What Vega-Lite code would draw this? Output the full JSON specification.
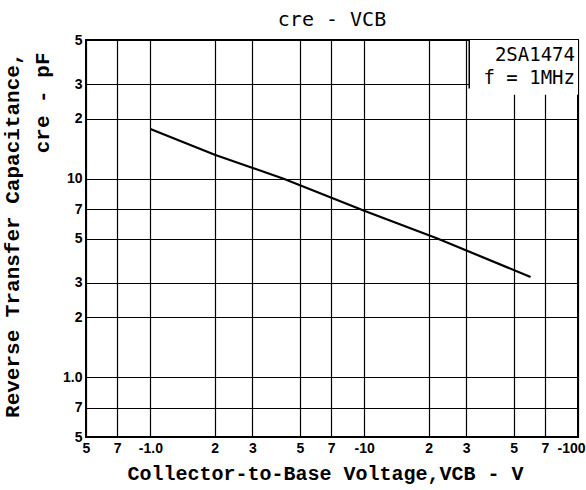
{
  "$schema": "https://vega.github.io/schema/vega-lite/v6.json",
  "autosize": "none",
  "width": 492,
  "height": 397,
  "padding": {"left": 86, "top": 40, "right": 8, "bottom": 53},
  "background": "white",
  "title": {"text": "cre - VCB", "font": "DejaVu Sans Mono", "fontSize": 20, "fontWeight": "normal", "color": "black", "offset": 3, "anchor": "middle"},
  "config": {
    "view": {"stroke": "black", "strokeWidth": 2},
    "axis": {"grid": true, "gridColor": "black", "gridOpacity": 1, "gridWidth": 1.2, "ticks": false, "domain": false, "labelColor": "black", "titleColor": "black", "labelOverlap": false, "labelBound": false, "labelFlush": false}
  },
  "layer": [
    {
      "data": {"values": [
        {"vcb": 1.0, "cre": 17.8},
        {"vcb": 2.0, "cre": 13.2},
        {"vcb": 4.2, "cre": 10.0},
        {"vcb": 10.0, "cre": 6.9},
        {"vcb": 22.0, "cre": 5.0},
        {"vcb": 60.0, "cre": 3.2}
      ]},
      "mark": {"type": "line", "color": "black", "strokeWidth": 2.2},
      "encoding": {
        "x": {"field": "vcb", "type": "quantitative",
          "scale": {"type": "log", "domain": [0.5, 100], "nice": false},
          "axis": {"values": [0.5, 0.7, 1, 2, 3, 5, 7, 10, 20, 30, 50, 70, 100],
            "labelExpr": "datum.value == 1 ? '-1.0' : datum.value == 10 ? '-10' : datum.value == 100 ? '-100' : toString(round(datum.value / pow(10, floor(log(datum.value) / LN10 + 1e-9))))",
            "labelOffset": {"condition": {"test": "datum.value == 100", "value": -7}, "value": 0},
            "labelFont": "Liberation Sans", "labelFontSize": 14, "labelFontWeight": "bold", "labelPadding": 4,
            "title": "Collector-to-Base Voltage,VCB - V", "titleFont": "Liberation Mono", "titleFontSize": 20, "titleFontWeight": "bold", "titlePadding": 8, "titleX": 239}},
        "y": {"field": "cre", "type": "quantitative",
          "scale": {"type": "log", "domain": [0.5, 50], "nice": false},
          "axis": {"values": [0.5, 0.7, 1, 2, 3, 5, 7, 10, 20, 30, 50],
            "labelExpr": "datum.value == 1 ? '1.0' : datum.value == 10 ? '10' : toString(round(datum.value / pow(10, floor(log(datum.value) / LN10 + 1e-9))))",
            "labelFont": "Liberation Sans", "labelFontSize": 14, "labelFontWeight": "bold", "labelPadding": 4,
            "title": ["Reverse Transfer Capacitance,", "cre - pF"], "titleFont": "Liberation Mono", "titleFontSize": 21, "titleFontWeight": "bold", "titleLineHeight": 30, "titlePadding": 10, "titleAlign": "right", "titleY": 12}}
      }
    },
    {
      "data": {"values": [{"x1": 31, "x2": 100, "y1": 26.5, "y2": 50}]},
      "mark": {"type": "rect", "fill": "white"},
      "encoding": {
        "x": {"field": "x1", "type": "quantitative"},
        "x2": {"field": "x2"},
        "y": {"field": "y1", "type": "quantitative"},
        "y2": {"field": "y2"}
      }
    },
    {
      "data": {"values": [{"x1": 31, "y1": 28.5, "y2": 50}]},
      "mark": {"type": "rule", "color": "black", "strokeWidth": 1.5},
      "encoding": {
        "x": {"field": "x1", "type": "quantitative"},
        "y": {"field": "y1", "type": "quantitative"},
        "y2": {"field": "y2"}
      }
    },
    {
      "data": {"values": [
        {"x": 100, "y": 42, "label": "2SA1474"},
        {"x": 100, "y": 32.2, "label": "f = 1MHz"}
      ]},
      "mark": {"type": "text", "align": "right", "baseline": "middle", "dx": -3, "font": "DejaVu Sans Mono", "fontSize": 19, "color": "black"},
      "encoding": {
        "x": {"field": "x", "type": "quantitative"},
        "y": {"field": "y", "type": "quantitative"},
        "text": {"field": "label"}
      }
    }
  ]
}
